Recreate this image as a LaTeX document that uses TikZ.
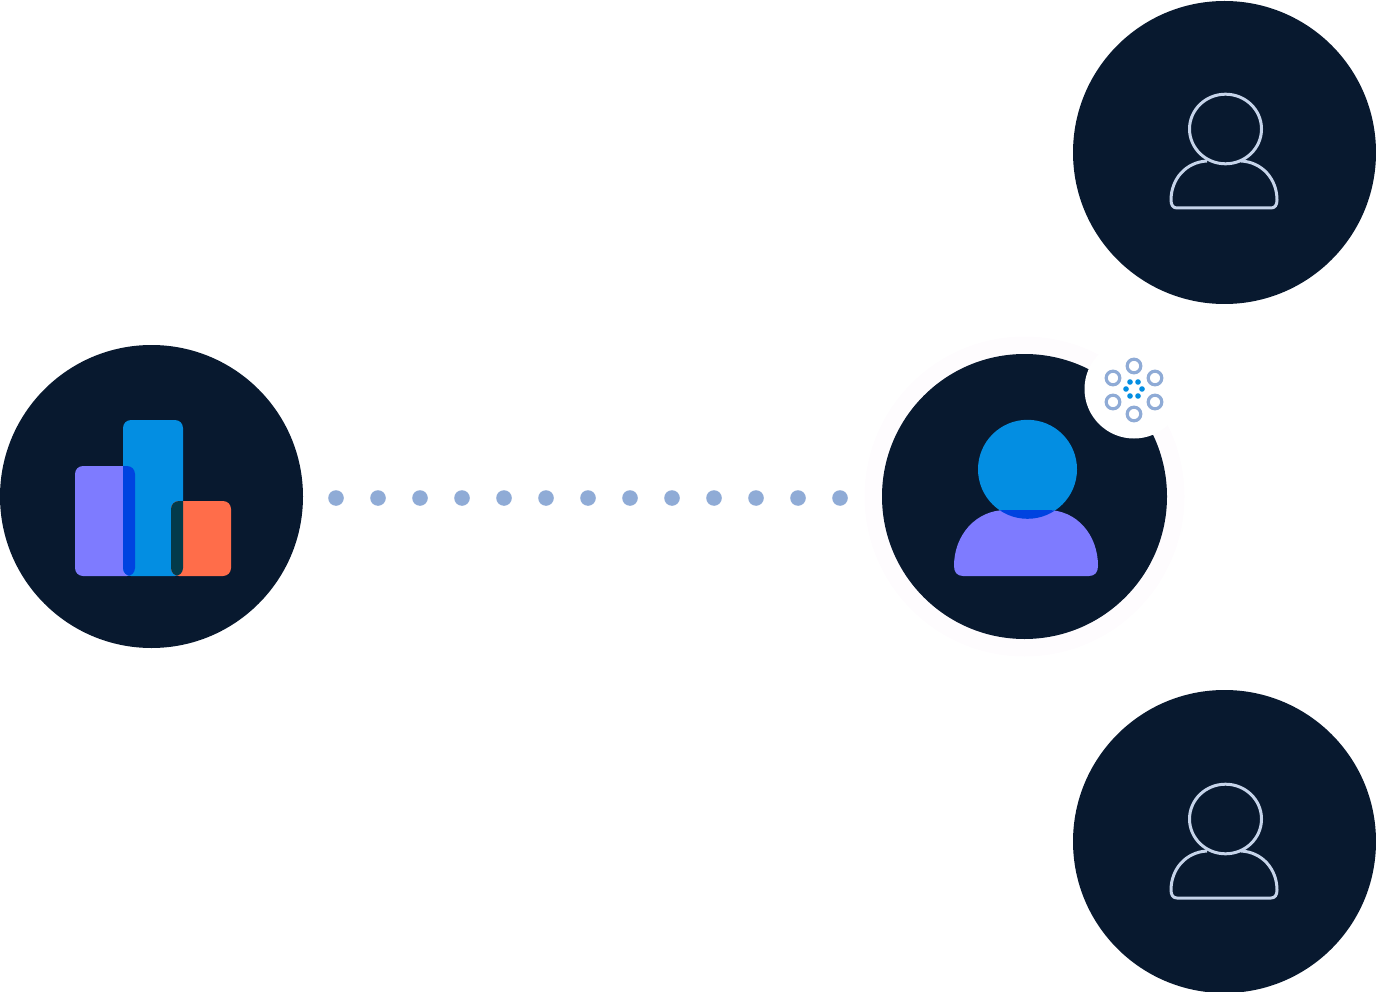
\documentclass[tikz,border=0pt]{standalone}
\definecolor{navy}{HTML}{08192F}
\definecolor{skyb}{HTML}{038EE2}
\definecolor{purp}{HTML}{7E7BFF}
\definecolor{oran}{HTML}{FF6D4A}
\definecolor{deepb}{HTML}{0043E0}
\definecolor{teal2}{HTML}{033A4A}
\definecolor{dotc}{HTML}{8FABD6}
\definecolor{linec}{HTML}{C6D4EA}
\definecolor{halo}{HTML}{FEFCFE}
\tikzset{
  disc/.style={circle,fill=navy,draw=none,inner sep=0pt,minimum size=#1},
  outl/.style={draw=linec,line width=3pt,fill=none},
  ringm/.style={draw=dotc,line width=3.2pt,fill=white},
}
\newcommand{\barA}{[rounded corners=8] (75,466) rectangle (135,576)}
\newcommand{\barB}{[rounded corners=8] (123,420) rectangle (183,576)}
\newcommand{\barC}{[rounded corners=8] (171,501) rectangle (231,576)}
\newcommand{\bodyshape}{(954,566) .. controls (954,535) and (976,510) .. (1006,510) -- (1047,510) .. controls (1077,510) and (1098,535) .. (1098,566) .. controls (1098,572) and (1095,576) .. (1089,576) -- (963,576) .. controls (957,576) and (954,572) .. (954,566) -- cycle}
\newcommand{\personicon}[2]{%
  \draw[outl] (#1,#2) ellipse[x radius=36,y radius=34.8];
  \draw[outl] (#1-18.5,#2+32) .. controls (#1-39.5,#2+33) and (#1-54.5,#2+50) .. (#1-54.5,#2+71)
    .. controls (#1-54.5,#2+76) and (#1-52.5,#2+79) .. (#1-48.5,#2+79) -- (#1+45.5,#2+79)
    .. controls (#1+49.5,#2+79) and (#1+51.5,#2+76) .. (#1+51.5,#2+71)
    .. controls (#1+51.5,#2+50) and (#1+36.5,#2+33) .. (#1+15.5,#2+32);
}
\begin{document}
\begin{tikzpicture}[x=1pt,y=-1pt]
\useasboundingbox (0,0) rectangle (1376,992);
% halos
\fill[halo] (1024.5,496.5) circle[radius=160];
% discs
\node[disc=303pt] (left) at (151.5,496.5) {};
\node[disc=303pt] (top) at (1224.5,152.5) {};
\node[disc=303pt] (bottom) at (1224.5,841.5) {};
\node[disc=285pt] (centre) at (1024.5,496.5) {};
% bars
\fill[purp] \barA;
\fill[skyb] \barB;
\fill[oran] \barC;
\begin{scope}\clip \barA; \fill[deepb] \barB; \end{scope}
\begin{scope}\clip \barC; \fill[teal2] \barB; \end{scope}
% dots
\foreach \i in {0,...,12} \fill[dotc] (336+42*\i,498) circle[radius=7.8];
% filled person
\fill[skyb] (1027.5,469.3) circle[radius=49.5];
\fill[purp] \bodyshape;
\begin{scope}\clip \bodyshape; \fill[deepb] (1027.5,469.3) circle[radius=49.5]; \end{scope}
% badge
\node[circle,fill=white,inner sep=0pt,minimum size=99pt] (badge) at (1134,389) {};
\foreach \x/\y in {1134/366,1113/378,1155/378,1113/402,1155/402,1134/414}
  \draw[ringm] (\x,\y) circle[radius=6.8];
\foreach \x/\y in {1130/382,1138/382,1142/389,1138/396,1130/396,1126/389}
  \fill[skyb] (\x,\y) circle[radius=2.8];
% outline persons
\personicon{1225.5}{129}
\personicon{1225.5}{819}
\end{tikzpicture}
\end{document}
